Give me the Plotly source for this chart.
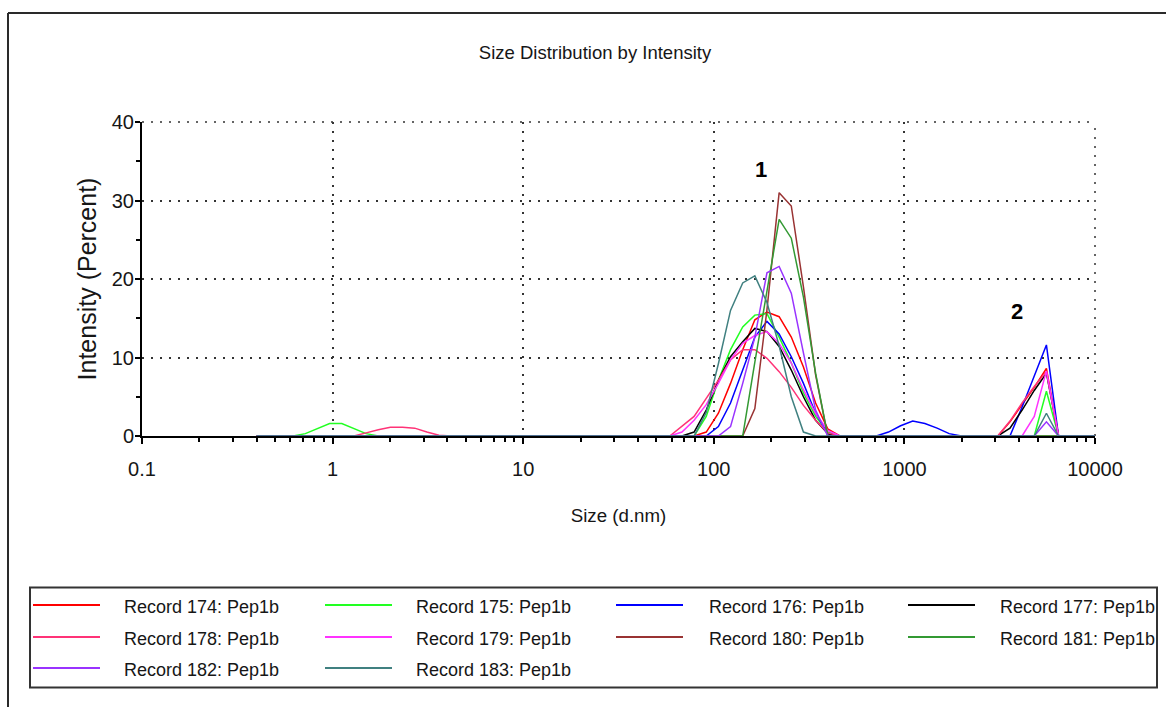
import math
import plotly.graph_objects as go

# ---------------- data (size in d.nm, intensity in %) ----------------
names = ["Record 174: Pep1b", "Record 175: Pep1b", "Record 176: Pep1b", "Record 177: Pep1b",
         "Record 178: Pep1b", "Record 179: Pep1b", "Record 180: Pep1b", "Record 181: Pep1b",
         "Record 182: Pep1b", "Record 183: Pep1b"]
colors = ["#FF0000", "#22FF22", "#0000FF", "#000000", "#FF3377",
          "#FF33FF", "#993333", "#339933", "#9933FF", "#408080"]

r174_size = [0.4, 78.82, 91.28, 105.7, 122.4, 141.8, 164.2, 190.1, 220.2, 255.0, 295.3, 342.0, 396.1, 458.7,
             3091, 3580, 4145, 4801, 5560, 6439, 10000]
r174_int = [0, 0, 0.5, 2.9, 6.7, 11.0, 14.8, 15.8, 15.2, 12.6, 8.8, 4.2, 0.9, 0,
            0, 1.8, 4.0, 6.2, 8.6, 0, 0]

r175_size = [0.4, 0.6213, 0.7195, 0.8332, 0.9649, 1.117, 1.294, 1.499, 1.736,
             78.82, 91.28, 105.7, 122.4, 141.8, 164.2, 190.1, 220.2, 255.0, 295.3, 342.0, 396.1, 458.7,
             4801, 5560, 6439, 10000]
r175_int = [0, 0, 0.3, 0.9, 1.6, 1.6, 0.9, 0.3, 0,
            0, 2.5, 7.1, 11.0, 13.9, 15.4, 15.6, 12.6, 9.3, 5.5, 2.5, 0.5, 0,
            0, 5.7, 0, 0]

r176_size = [0.4, 91.28, 105.7, 122.4, 141.8, 164.2, 190.1, 220.2, 255.0, 295.3, 342.0, 396.1, 458.7,
             712.4, 825.0, 955.4, 1106, 1281, 1484, 1718, 1990,
             3580, 4145, 4801, 5560, 6439, 10000]
r176_int = [0, 0, 1.2, 4.2, 8.4, 12.6, 14.6, 13.0, 10.1, 6.7, 2.9, 0.3, 0,
            0, 0.5, 1.3, 1.9, 1.6, 1.0, 0.3, 0,
            0, 3.7, 7.6, 11.6, 0, 0]

r177_size = [0.4, 68.06, 78.82, 91.28, 105.7, 122.4, 141.8, 164.2, 190.1, 220.2, 255.0, 295.3, 342.0, 396.1,
             458.7, 3091, 3580, 4145, 4801, 5560, 6439, 10000]
r177_int = [0, 0, 0.5, 3.3, 7.1, 10.1, 12.0, 13.7, 13.3, 11.4, 8.4, 5.0, 2.0, 0.3,
            0, 0, 1.0, 3.3, 5.8, 8.0, 0, 0]

r178_size = [0.4, 1.294, 1.499, 1.736, 2.01, 2.328, 2.696, 3.122, 3.615, 4.187,
             58.77, 68.06, 78.82, 91.28, 105.7, 122.4, 141.8, 164.2, 190.1, 220.2, 255.0, 295.3, 342.0, 396.1, 458.7,
             3091, 3580, 4145, 4801, 5560, 6439, 10000]
r178_int = [0, 0, 0.4, 0.8, 1.1, 1.1, 1.0, 0.5, 0.1, 0,
            0, 1.2, 2.5, 4.8, 7.1, 9.7, 11.0, 11.0, 9.9, 8.2, 6.2, 3.9, 2.0, 0.4, 0,
            0, 1.9, 4.2, 6.3, 8.2, 0, 0]

r179_size = [0.4, 58.77, 68.06, 78.82, 91.28, 105.7, 122.4, 141.8, 164.2, 190.1, 220.2, 255.0, 295.3, 342.0,
             396.1, 458.7, 4145, 4801, 5560, 6439, 10000]
r179_int = [0, 0, 0.5, 2.0, 4.0, 6.7, 9.7, 11.8, 12.8, 13.3, 11.8, 9.3, 5.9, 2.9,
            0.7, 0, 0, 2.5, 8.3, 0, 0]

r180_size = [0.4, 141.8, 164.2, 190.1, 220.2, 255.0, 295.3, 342.0, 396.1, 10000]
r180_int = [0, 0, 3.5, 16.1, 31.0, 29.3, 19.0, 7.8, 0, 0]

r181_size = [0.4, 141.8, 164.2, 190.1, 220.2, 255.0, 295.3, 342.0, 396.1, 10000]
r181_int = [0, 0, 9.4, 18.6, 27.6, 25.2, 17.7, 8.0, 0, 0]

r182_size = [0.4, 105.7, 122.4, 141.8, 164.2, 190.1, 220.2, 255.0, 295.3, 342.0, 396.1,
             4801, 5560, 6439, 10000]
r182_int = [0, 0, 1.2, 6.7, 12.6, 20.8, 21.6, 18.2, 10.6, 3.3, 0,
            0, 1.8, 0, 0]

r183_size = [0.4, 78.82, 91.28, 105.7, 122.4, 141.8, 164.2, 190.1, 220.2, 255.0, 295.3, 342.0,
             4801, 5560, 6439, 10000]
r183_int = [0, 0, 3.0, 9.2, 16.0, 19.5, 20.4, 17.0, 11.5, 5.0, 0.5, 0,
            0, 2.9, 0, 0]

sizes = [r174_size, r175_size, r176_size, r177_size, r178_size,
         r179_size, r180_size, r181_size, r182_size, r183_size]
ints = [r174_int, r175_int, r176_int, r177_int, r178_int,
        r179_int, r180_int, r181_int, r182_int, r183_int]

x_tickvals = [0.1, 1, 10, 100, 1000, 10000]
x_ticktext = ["0.1", "1", "10", "100", "1000", "10000"]
y_tickvals = [0, 10, 20, 30, 40]

# peak labels (size, intensity)
peak_labels = ["1", "2"]
peak_label_x = [176, 3890]
peak_label_y = [33.9, 15.8]

# ---------------- layout geometry (pixels) ----------------
W, H = 1166, 707
PL, PR, PT, PB = 142, 1095, 122, 436   # plot area in pixels

def px_x(p):
    return (p - PL) / (PR - PL)

def px_y(p):
    return (PB - p) / (PB - PT)

FONT = "Liberation Sans, Arial, sans-serif"
TXT = "#161616"
GRID_DASH = "2px,7px"
GRID_COLOR = "#333333"

fig = go.Figure()
for s, v, n, c in zip(sizes, ints, names, colors):
    fig.add_trace(go.Scatter(x=s, y=v, mode="lines", name=n,
                             line=dict(color=c, width=1.5), showlegend=False))

minor_vals = [m * 10 ** e for e in range(-1, 4) for m in range(2, 10)]

fig.update_layout(
    width=W, height=H,
    margin=dict(l=PL, r=W - PR, t=PT, b=H - PB, autoexpand=False),
    paper_bgcolor="white", plot_bgcolor="white",
    title=dict(text="Size Distribution by Intensity", x=595 / W, xanchor="center",
               y=1 - 53 / H, yanchor="middle", yref="container",
               font=dict(family=FONT, size=18.5, color=TXT)),
    xaxis=dict(type="log", range=[-1, 4], tickvals=x_tickvals, ticktext=x_ticktext,
               showline=True, linecolor="black", linewidth=2, mirror=False,
               ticks="outside", ticklen=6, tickwidth=2, tickcolor="black",
               showgrid=True, gridcolor=GRID_COLOR, griddash=GRID_DASH, gridwidth=1.5,
               zeroline=False, ticklabelstandoff=8,
               tickfont=dict(family=FONT, size=20, color=TXT),
               minor=dict(tickvals=minor_vals, ticks="outside", ticklen=4,
                          tickwidth=1.5, tickcolor="black", showgrid=False),
               title=dict(text="Size (d.nm)", standoff=30,
                          font=dict(family=FONT, size=18.7, color=TXT))),
    yaxis=dict(range=[0, 40], tickvals=y_tickvals,
               showline=True, linecolor="black", linewidth=2,
               ticks="outside", ticklen=5, tickwidth=2, tickcolor="black",
               showgrid=True, gridcolor=GRID_COLOR, griddash=GRID_DASH, gridwidth=1.5,
               zeroline=False, ticklabelstandoff=-3,
               tickfont=dict(family=FONT, size=20, color=TXT),
               minor=dict(dtick=5, ticks="outside", ticklen=4, tickwidth=1.5,
                          tickcolor="black", showgrid=False),
               title=dict(text="Intensity (Percent)", standoff=8,
                          font=dict(family=FONT, size=25, color=TXT))),
)

shapes = []
annotations = []

# dotted grid lines on the top and right edges of the plot area
shapes.append(dict(type="line", xref="paper", yref="paper", x0=0, x1=1, y0=1, y1=1,
                   line=dict(color=GRID_COLOR, width=1.5, dash=GRID_DASH), layer="below"))
shapes.append(dict(type="line", xref="paper", yref="paper", x0=1, x1=1, y0=0, y1=1,
                   line=dict(color=GRID_COLOR, width=1.5, dash=GRID_DASH), layer="below"))

# outer frame (top and left edges)
shapes.append(dict(type="line", xref="paper", yref="paper",
                   x0=px_x(8), x1=px_x(1180), y0=px_y(13), y1=px_y(13),
                   line=dict(color="#2a2a2a", width=2)))
shapes.append(dict(type="line", xref="paper", yref="paper",
                   x0=px_x(8), x1=px_x(8), y0=px_y(13), y1=px_y(720),
                   line=dict(color="#2a2a2a", width=2)))

# legend box
shapes.append(dict(type="rect", xref="paper", yref="paper",
                   x0=px_x(30), x1=px_x(1157), y0=px_y(587.5), y1=px_y(687.5),
                   line=dict(color="#333333", width=2), fillcolor="rgba(0,0,0,0)"))
col_line_x = [33, 325, 616, 908]
col_text_x = [122, 414, 707, 998]
row_y = [605, 637, 668]
for i, (n, c) in enumerate(zip(names, colors)):
    r, k = divmod(i, 4)
    shapes.append(dict(type="line", xref="paper", yref="paper",
                       x0=px_x(col_line_x[k]), x1=px_x(col_line_x[k] + 67),
                       y0=px_y(row_y[r]), y1=px_y(row_y[r]),
                       line=dict(color=c, width=2)))
    annotations.append(dict(text=n, xref="paper", yref="paper", showarrow=False,
                            x=px_x(col_text_x[k]), y=px_y(row_y[r] + 2),
                            xanchor="left", yanchor="middle",
                            font=dict(family=FONT, size=18, color=TXT)))

for t, xv, yv in zip(peak_labels, peak_label_x, peak_label_y):
    annotations.append(dict(text="<b>" + t + "</b>", x=math.log10(xv), y=yv,
                            xref="x", yref="y", showarrow=False,
                            font=dict(family=FONT, size=22, color="black")))

fig.update_layout(shapes=shapes, annotations=annotations)
fig.write_html("out.html")
